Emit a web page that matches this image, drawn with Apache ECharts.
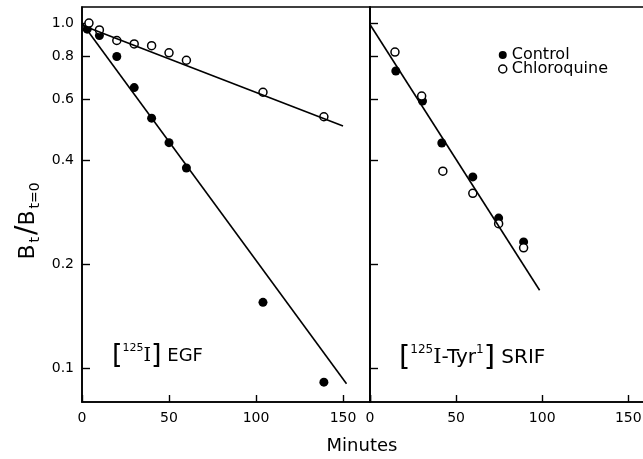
<!DOCTYPE html>
<html>
<head>
<meta charset="utf-8">
<title>EGF / SRIF dissociation</title>
<script src="https://cdn.jsdelivr.net/npm/echarts@6.0.0/dist/echarts.min.js"></script>
<style>
  html, body { margin: 0; padding: 0; background: #fff; }
  #chart { width: 643px; height: 459px; }
</style>
</head>
<body>
<div id="chart"></div>
<script>
// data: [minutes, Bt/Bt=0]
const egfControl = [[3, 0.96], [10, 0.92], [20, 0.80], [30, 0.65], [40, 0.53], [50, 0.45], [60, 0.38], [104, 0.155], [139, 0.091]]
const egfChloroquine = [[4, 1.0], [10, 0.955], [20, 0.89], [30, 0.87], [40, 0.86], [50, 0.82], [60, 0.78], [104, 0.63], [139, 0.535]]
const srifControl = [[15, 0.726], [30.5, 0.594], [41.7, 0.449], [59.7, 0.358], [74.7, 0.272], [89.2, 0.232]]
const srifChloroquine = [[14.5, 0.824], [30, 0.614], [42.3, 0.372], [59.7, 0.321], [74.7, 0.262], [89.2, 0.223]]
// fitted lines (end points)
const egfControlFit = [[0, 1.0], [152, 0.09]]
const egfChloroquineFit = [[0, 0.985], [150, 0.503]]
const srifFit = [[0, 0.99], [98.5, 0.168]]

const xTicks = [0, 50, 100, 150]
const yTicks = [0.1, 0.2, 0.4, 0.6, 0.8, 1.0]
const yRange = [0.0797, 1.113]

// log scale done by hand: plot log10 of the values
const lg = arr => arr.map(p => [p[0], Math.log10(p[1])])

const font = 'DejaVu Sans'
const myChart = echarts.init(document.getElementById('chart'))

function xAxisFor(i) {
  return {
    type: 'value',
    gridIndex: i,
    min: 0,
    max: 165.5,
    interval: 50,
    axisLine: { onZero: false, lineStyle: { color: '#000', width: 1.6 } },
    axisTick: { inside: true, length: 7, lineStyle: { color: '#000', width: 1.4 } },
    axisLabel: { color: '#000', fontFamily: font, fontSize: 14, margin: 9,
      customValues: xTicks },
    splitLine: { show: false }
  }
}
function yAxisFor(i, labels) {
  return {
    type: 'value',
    gridIndex: i,
    min: Math.log10(yRange[0]),
    max: Math.log10(yRange[1]),
    axisLine: { onZero: false, lineStyle: { color: '#000', width: 1.6 } },
    axisTick: { inside: true, length: 8, customValues: yTicks.map(Math.log10),
      lineStyle: { color: '#000', width: 1.4 } },
    axisLabel: { show: labels, color: '#000', fontFamily: font, fontSize: 14, margin: 8,
      customValues: yTicks.map(Math.log10),
      formatter: v => Math.pow(10, v).toFixed(1) },
    splitLine: { show: false }
  }
}

const filled = { color: '#000', opacity: 1 }
const open = { color: '#fff', borderColor: '#000', borderWidth: 1.5, opacity: 1 }
const fitLine = { color: '#000', width: 1.6 }

let option = {
  animation: false,
  backgroundColor: '#fff',
  grid: [
    { left: 82, top: 7, width: 288, height: 395, outerBoundsMode: 'none',
      show: true, borderColor: '#000', borderWidth: 1.6 },
    // right panel runs past the edge of the picture
    { left: 370, top: 7, width: 285, height: 395, outerBoundsMode: 'none',
      show: true, borderColor: '#000', borderWidth: 1.6 }
  ],
  xAxis: [xAxisFor(0), xAxisFor(1)],
  yAxis: [yAxisFor(0, true), yAxisFor(1, false)],
  legend: {
    orient: 'vertical',
    left: 493,
    top: 42,
    itemGap: -2,
    itemWidth: 8,
    itemHeight: 8,
    textStyle: { color: '#000', fontFamily: font, fontSize: 16 },
    data: [
      { name: 'Control', icon: 'circle', itemStyle: filled },
      { name: 'Chloroquine', icon: 'circle', itemStyle: open }
    ]
  },
  series: [
    { name: 'fit', type: 'line', xAxisIndex: 0, yAxisIndex: 0, data: lg(egfControlFit),
      symbol: 'none', lineStyle: fitLine, silent: true },
    { name: 'fit', type: 'line', xAxisIndex: 0, yAxisIndex: 0, data: lg(egfChloroquineFit),
      symbol: 'none', lineStyle: fitLine, silent: true },
    { name: 'fit', type: 'line', xAxisIndex: 1, yAxisIndex: 1, data: lg(srifFit),
      symbol: 'none', lineStyle: fitLine, silent: true },
    { name: 'Control', type: 'scatter', xAxisIndex: 0, yAxisIndex: 0, data: lg(egfControl),
      symbolSize: 9, itemStyle: filled },
    { name: 'Chloroquine', type: 'scatter', xAxisIndex: 0, yAxisIndex: 0, data: lg(egfChloroquine),
      symbolSize: 8, itemStyle: open },
    { name: 'Control', type: 'scatter', xAxisIndex: 1, yAxisIndex: 1, data: lg(srifControl),
      symbolSize: 9, itemStyle: filled },
    { name: 'Chloroquine', type: 'scatter', xAxisIndex: 1, yAxisIndex: 1, data: lg(srifChloroquine),
      symbolSize: 8, itemStyle: open }
  ],
  graphic: [
    // y axis title, Bt/Bt=0
    {
      type: 'text', x: 28, y: 220, rotation: Math.PI / 2,
      style: {
        text: '{b|B}{s|t}{sl|/}{b|B}{s|t=0}',
        align: 'center', verticalAlign: 'middle',
        rich: {
          b: { fontFamily: font, fontSize: 22, fill: '#000', verticalAlign: 'middle' },
          s: { fontFamily: font, fontSize: 14, fill: '#000', verticalAlign: 'bottom', padding: [0, 2] },
          sl: { fontFamily: font, fontSize: 28, fill: '#000', verticalAlign: 'middle' }
        }
      }
    },
    // x axis title
    {
      type: 'text', x: 362, y: 446,
      style: { text: 'Minutes', fontFamily: font, fontSize: 18, fill: '#000',
        align: 'center', verticalAlign: 'middle' }
    },
    // panel labels
    {
      type: 'text', x: 112, y: 356,
      style: {
        text: '{br|[}{sup|125}{i|I}{br|]}{t| EGF}',
        verticalAlign: 'middle',
        rich: {
          br: { fontFamily: font, fontSize: 27, fill: '#000', verticalAlign: 'middle' },
          sup: { fontFamily: font, fontSize: 11, fill: '#000', verticalAlign: 'top' },
          i: { fontFamily: 'DejaVu Serif', fontSize: 19, fill: '#000', verticalAlign: 'middle' },
          t: { fontFamily: font, fontSize: 18, fill: '#000', verticalAlign: 'middle' }
        }
      }
    },
    {
      type: 'text', x: 399, y: 358,
      style: {
        text: '{br|[}{sup|125}{i|I}{t|-Tyr}{sup|1}{br|]}{t| SRIF}',
        verticalAlign: 'middle',
        rich: {
          br: { fontFamily: font, fontSize: 29, fill: '#000', verticalAlign: 'middle' },
          sup: { fontFamily: font, fontSize: 12, fill: '#000', verticalAlign: 'top' },
          i: { fontFamily: 'DejaVu Serif', fontSize: 21, fill: '#000', verticalAlign: 'middle' },
          t: { fontFamily: font, fontSize: 20, fill: '#000', verticalAlign: 'middle' }
        }
      }
    }
  ]
}

myChart.setOption(option)
window.addEventListener('resize', function () {
  myChart.resize()
})
</script>
</body>
</html>
